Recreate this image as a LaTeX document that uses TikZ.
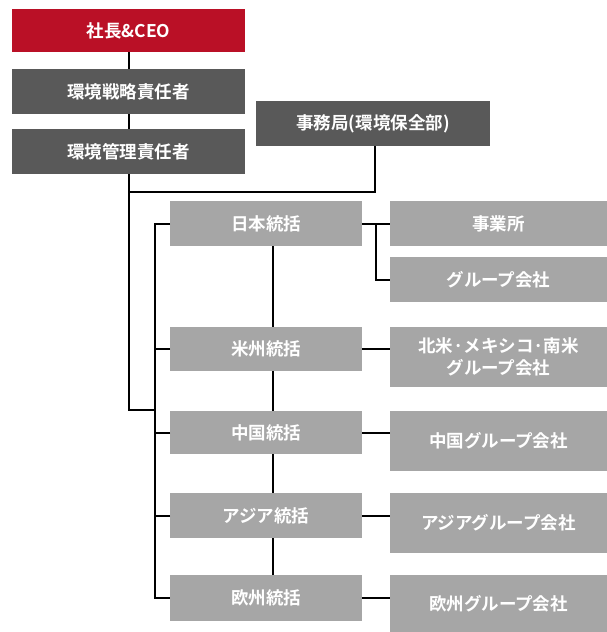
\documentclass[tikz,border=0pt]{standalone}
\usepackage{fontspec}
\setmainfont{Noto Sans CJK JP}[BoldFont={* Bold}]
\newfontfamily\jpb{Noto Sans CJK JP Bold}
\definecolor{ceored}{RGB}{186,16,38}
\definecolor{darkbox}{RGB}{89,89,89}
\definecolor{lightbox}{RGB}{166,166,166}
\begin{document}
\begin{tikzpicture}[x=1pt,y=-1pt,
  box/.style={inner sep=0pt,outer sep=0pt,text=white,align=center,
    font=\jpb\fontsize{17.5}{22}\selectfont},
  conn/.style={line width=2pt,black}]
\useasboundingbox (0,0) rectangle (607,632);
% box helper: fill rectangle then node
\newcommand{\mybox}[7]{%
  \fill[#6] (#2,#3) rectangle (#4,#5);
  \node[box,minimum width={#4-#2},minimum height={#5-#3}] (#1) at ({(#2+#4)/2},{(#3+#5)/2}) {#7};}
\mybox{ceo}{12}{9}{245}{52}{ceored}{社長\&CEO}
\mybox{strat}{12}{69}{245}{114}{darkbox}{環境戦略責任者}
\mybox{mgmt}{12}{129}{245}{174}{darkbox}{環境管理責任者}
\mybox{sec}{256}{101}{490}{146}{darkbox}{事務局(環境保全部)}
\mybox{jp}{170}{201}{362}{246}{lightbox}{日本統括}
\mybox{am}{170}{327}{362}{371}{lightbox}{米州統括}
\mybox{cn}{170}{411}{362}{454}{lightbox}{中国統括}
\mybox{as}{170}{493}{362}{538}{lightbox}{アジア統括}
\mybox{eu}{170}{575}{362}{621}{lightbox}{欧州統括}
\mybox{office}{390}{201}{607}{246}{lightbox}{事業所}
\mybox{jpgrp}{390}{257}{607}{302}{lightbox}{グループ会社}
\mybox{amgrp}{390}{327}{607}{387}{lightbox}{北米·メキシコ·南米\\グループ会社}
\mybox{cngrp}{390}{411}{607}{471}{lightbox}{中国グループ会社}
\mybox{asgrp}{390}{493}{607}{553}{lightbox}{アジアグループ会社}
\mybox{eugrp}{390}{575}{607}{632}{lightbox}{欧州グループ会社}
\coordinate (trunkend) at (129,410);
\coordinate (secjoin) at (129,192);
\coordinate (jpfork) at (376,224);
\coordinate (bus) at (155,410);
% top chain
\draw[conn] (ceo.south -| 129,0) -- (strat.north -| 129,0);
\draw[conn] (strat.south -| 129,0) -- (mgmt.north -| 129,0);
\draw[conn] (mgmt.south -| 129,0) -- (trunkend) -- (bus);
\draw[conn] (secjoin) -| (sec.south -| 375,0);
% regional bus
\draw[conn] (jp.west) -| (155,0 |- eu.west) -- (eu.west);
\draw[conn] (am.west) -- (am.west -| bus);
\draw[conn] (cn.west) -- (cn.west -| bus);
\draw[conn] (as.west) -- (as.west -| bus);
% vertical chain between regions
\draw[conn] (jp.south -| 273,0) -- (am.north -| 273,0);
\draw[conn] (am.south -| 273,0) -- (cn.north -| 273,0);
\draw[conn] (cn.south -| 273,0) -- (as.north -| 273,0);
\draw[conn] (as.south -| 273,0) -- (eu.north -| 273,0);
% right connections
\draw[conn] (jp.east) -- (office.west);
\draw[conn] (jpfork) |- (jpgrp.west);
\draw[conn] (am.east) -- (am.east -| amgrp.west);
\draw[conn] (cn.east) -- (cn.east -| cngrp.west);
\draw[conn] (as.east) -- (as.east -| asgrp.west);
\draw[conn] (eu.east) -- (eu.east -| eugrp.west);
\end{tikzpicture}
\end{document}
